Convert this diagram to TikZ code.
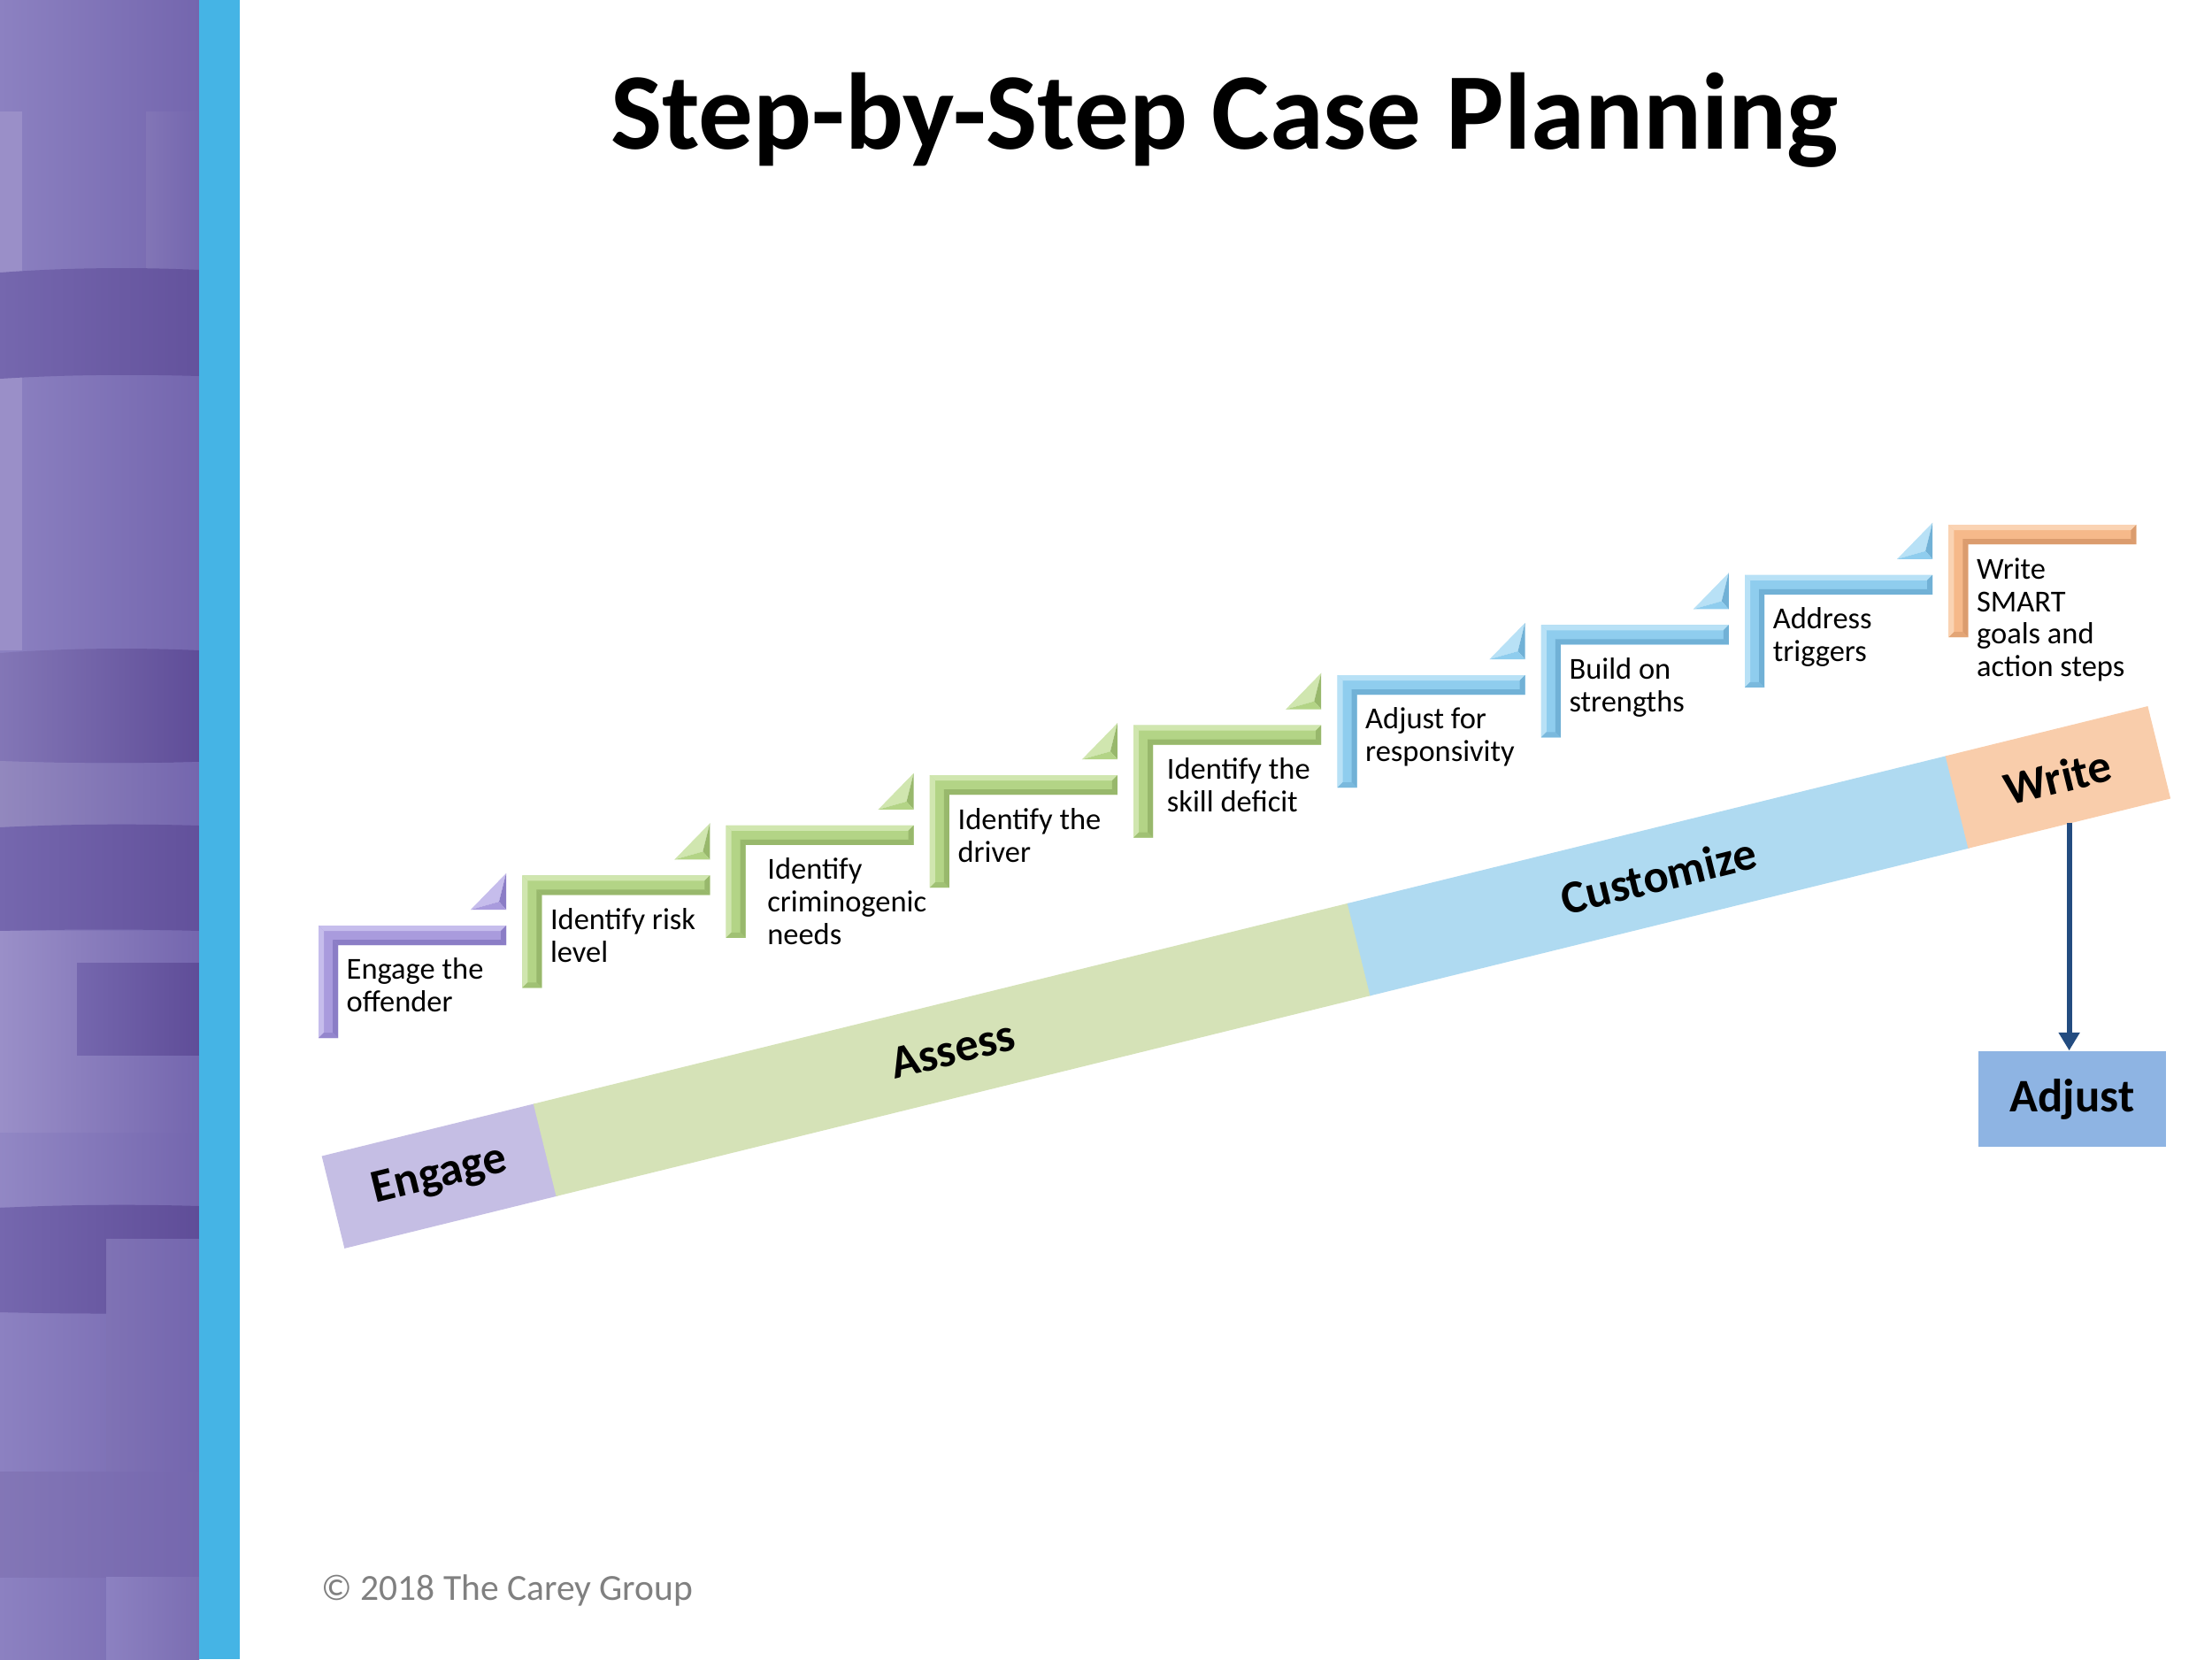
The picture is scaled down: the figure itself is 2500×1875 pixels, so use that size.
\documentclass[tikz,border=0pt]{standalone}
\usepackage{fontspec}
\setmainfont{Carlito}
\usetikzlibrary{arrows.meta}
\definecolor{pA}{HTML}{8C81C1}
\definecolor{pB}{HTML}{7466AE}
\definecolor{pDA}{HTML}{7567AE}
\definecolor{pDB}{HTML}{5F4D98}
\definecolor{pLA}{HTML}{9A8FC8}
\definecolor{pLB}{HTML}{7D70B3}
\definecolor{stripe}{HTML}{45B4E5}
% step colours
\definecolor{pu}{HTML}{A99BDD}\definecolor{puL}{HTML}{C6BDEC}\definecolor{puD}{HTML}{8B7DC6}
\definecolor{gr}{HTML}{B3D486}\definecolor{grL}{HTML}{D0E6AF}\definecolor{grD}{HTML}{98B86C}
\definecolor{bl}{HTML}{8FCDEE}\definecolor{blL}{HTML}{B8E1F6}\definecolor{blD}{HTML}{71B1D6}
\definecolor{or}{HTML}{F6B98A}\definecolor{orL}{HTML}{FAD3B3}\definecolor{orD}{HTML}{DB9C6E}
% bar colours
\definecolor{cEng}{HTML}{C5BEE4}
\definecolor{cAss}{HTML}{D5E2B7}
\definecolor{cCus}{HTML}{AFDAF1}
\definecolor{cWri}{HTML}{F9CDAB}
\definecolor{cAdj}{HTML}{8EB4E3}
\definecolor{cArr}{HTML}{234C80}
\begin{document}
\begin{tikzpicture}[x=0.01cm,y=-0.01cm,
  seg/.style={rotate=13.84, minimum height=1.06cm, inner sep=0pt, outer sep=0pt,
    font=\bfseries\fontsize{15}{18}\selectfont},
  steptext/.style={anchor=north west, inner sep=0pt, align=left,
    font=\fontsize{9.8}{10.5}\selectfont},
  arr/.style={draw=cArr, line width=1.7pt, -{Triangle[width=6.5pt,length=5.8pt]}}]
\useasboundingbox (0,0) rectangle (2500,1875);
\fill[white] (0,0) rectangle (2500,1875);
% ---- left decorative panel
\shade[left color=pA, right color=pB] (0,0) rectangle (225,1875);
\fill[pLA] (0,126) rectangle (25,735);
\shade[left color=pB!90!white, right color=pB] (165,126) rectangle (225,305);
\shade[left color=pDA, right color=pDB!80!pDA] (0,308) .. controls (80,302) and (160,302) .. (225,305) -- (225,425) .. controls (160,423) and (80,423) .. (0,428) -- cycle;
\shade[left color=pDA!90!white, right color=pDB] (0,738) .. controls (80,732) and (160,732) .. (225,735) -- (225,861) .. controls (160,863) and (80,863) .. (0,860) -- cycle;
\shade[left color=pLA!95!black, right color=pB] (0,860) .. controls (80,863) and (160,863) .. (225,861) -- (225,933) .. controls (160,931) and (80,931) .. (0,935) -- cycle;
\shade[left color=pDA, right color=pDB!85!pDA] (0,935) .. controls (80,931) and (160,931) .. (225,933) -- (225,1052) .. controls (160,1050) and (80,1050) .. (0,1052) -- cycle;
\shade[left color=pLA, right color=pB] (0,1052) rectangle (225,1280);
\shade[left color=pDA, right color=pDB] (87,1088) rectangle (225,1192);
\shade[left color=pA!95!white, right color=pB] (0,1280) rectangle (225,1363);
\shade[left color=pDA, right color=pDB] (0,1365) .. controls (80,1361) and (160,1361) .. (225,1363) -- (225,1483) .. controls (160,1485) and (80,1485) .. (0,1483) -- cycle;
\shade[left color=pB!92!white, right color=pB] (120,1400) rectangle (225,1663);
\shade[left color=pDA!90!white, right color=pDA] (0,1663) rectangle (225,1782);
\shade[left color=pA, right color=pB!95!white] (120,1782) rectangle (225,1875);
\fill[stripe] (225,0) rectangle (271,1875);
% ---- title
\node[anchor=base, inner sep=0pt, font=\bfseries\fontsize{35}{42}\selectfont] (title) at (1384,168) {Step-by-Step Case Planning};
% ---- steps
\foreach \i/\c/\o/\t in {0/pu/31/{Engage the\\offender},
                      1/gr/31/{Identify risk\\level},
                      2/gr/46/{Identify\\criminogenic\\needs},
                      3/gr/31/{Identify the\\driver},
                      4/gr/37/{Identify the\\skill deficit},
                      5/bl/31/{Adjust for\\responsivity},
                      6/bl/31/{Build on\\strengths},
                      7/bl/31/{Address\\triggers},
                      8/or/31/{Write\\SMART\\goals and\\action steps}}{
  \pgfmathsetmacro\X{360+230.3*\i}
  \pgfmathsetmacro\Y{1046-56.6*\i}
  \fill[\c] (\X,\Y) -- ++(212,0) -- ++(0,22) -- ++(-190,0) -- ++(0,105) -- ++(-22,0) -- cycle;
  \fill[\c L] (\X,\Y) -- (\X+212,\Y) -- (\X+206,\Y+6) -- (\X+6,\Y+6) -- cycle;
  \fill[\c L] (\X,\Y) -- (\X+6,\Y+6) -- (\X+6,\Y+121) -- (\X,\Y+127) -- cycle;
  \fill[\c D] (\X+212,\Y) -- (\X+212,\Y+22) -- (\X+206,\Y+16) -- (\X+206,\Y+6) -- cycle;
  \fill[\c D] (\X+22,\Y+22) -- (\X+212,\Y+22) -- (\X+206,\Y+16) -- (\X+16,\Y+16) -- cycle;
  \fill[\c D] (\X+22,\Y+22) -- (\X+16,\Y+16) -- (\X+16,\Y+121) -- (\X+22,\Y+127) -- cycle;
  \fill[\c D!70!\c] (\X,\Y+127) -- (\X+22,\Y+127) -- (\X+16,\Y+121) -- (\X+6,\Y+121) -- cycle;
  \ifnum\i<8
    \fill[\c L] (\X+172,\Y-18) -- (\X+212,\Y-59) -- (\X+204,\Y-27) -- cycle;
    \fill[\c D] (\X+212,\Y-59) -- (\X+212,\Y-18) -- (\X+204,\Y-27) -- cycle;
    \fill[\c] (\X+172,\Y-18) -- (\X+212,\Y-18) -- (\X+204,\Y-27) -- cycle;
  \fi
  \node[steptext] (s\i) at (\X+\o,\Y+25) {\rule{0pt}{10pt}\t};
}
% ---- bar
\node[seg, fill=cEng, draw=cEng, minimum width=2.466cm] (eng) at (497,1329) {Engage};
\node[seg, fill=cAss, draw=cAss, minimum width=9.474cm] (ass) at (1076.6,1186.2) {Assess};
\node[seg, fill=cCus, draw=cCus, minimum width=6.96cm] (cus) at (1874.4,989.7) {Customize};
\node[seg, fill=cWri, draw=cWri, minimum width=2.34cm] (wri) at (2325.9,878.4) {Write};
% ---- adjust
\node[fill=cAdj, minimum width=2.12cm, minimum height=1.08cm, inner sep=0pt,
  font=\bfseries\fontsize{15}{18}\selectfont] (adj) at (2342,1242) {Adjust};
\draw[arr] (wri.south) -- (wri.south |- adj.north);
% ---- footer
\node[anchor=base west, inner sep=0pt, text=black!50, font=\fontsize{11.8}{14}\selectfont] (foot) at (363,1808) {© 2018 The Carey Group};
\end{tikzpicture}
\end{document}
